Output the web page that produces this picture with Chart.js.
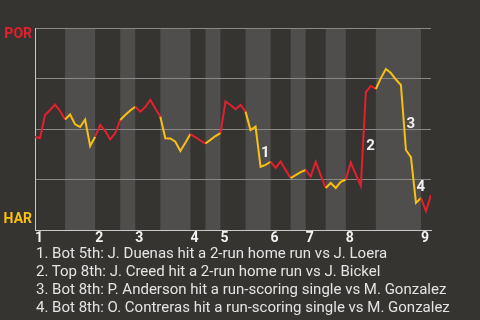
<!DOCTYPE html>
<html>
<head>
<meta charset="utf-8">
<script src="https://cdn.jsdelivr.net/npm/chart.js@4.4.1/dist/chart.umd.min.js"></script>
<style>
  html, body { margin: 0; padding: 0; background: #363431; width: 480px; height: 320px; overflow: hidden; }
  #wrap { position: relative; width: 480px; height: 320px; }
  #chart { position: absolute; left: 0; top: 0; }
  #notes {
    position: absolute; left: 36px; top: 244px;
    font-family: Roboto, sans-serif; font-size: 15px; line-height: 18px;
    color: #e4e4e4; white-space: nowrap;
  }
</style>
</head>
<body>
<div id="wrap">
  <canvas id="chart" width="480" height="248"></canvas>
  <div id="notes"></div>
</div>
<script>
// Probabilidad de victoria (POR arriba = 100, HAR abajo = 0), una por evento
const winProb = [
  46.0, 45.5, 56.9, 59.4, 62.1, 58.9, 54.7, 57.2, 52.3, 51.0,
  54.7, 41.6, 46.2, 52.0, 49.0, 44.9, 47.9, 54.5, 56.9, 59.2,
  61.0, 58.6, 60.9, 64.4, 60.2, 56.1, 45.4, 45.3, 43.7, 39.1,
  43.2, 47.5, 46.0, 44.3, 42.8, 44.6, 46.5, 48.0, 63.6, 61.9,
  59.8, 61.9, 58.6, 49.5, 51.2, 31.3, 32.2, 33.8, 30.7, 33.9,
  29.7, 25.7, 27.2, 28.7, 29.7, 26.5, 33.7, 27.2, 20.8, 23.3,
  20.8, 23.8, 25.0, 33.4, 27.5, 21.8, 68.3, 71.3, 69.8, 75.2,
  79.7, 77.7, 74.5, 71.8, 39.6, 36.1, 13.4, 15.8, 9.4, 17.3
];
const lastEvent = 79;

// Evento donde empieza cada media entrada (par = alta, impar = baja)
const halfStarts = [0, 6, 12, 17, 20, 25, 31, 34, 37, 42, 47, 51, 54, 58, 62, 68, 77];

// Etiquetas de entradas en el eje x
const inningStarts = [0, 12, 20, 31, 37, 47, 54, 62, 77];
const inningLabels = ['1', '2', '3', '4', '5', '6', '7', '8', '9'];

// Etiquetas de equipos en el eje y
const teamTicks = [97, 5.4];
const teamLabels = ['POR', 'HAR'];
const gridValues = [25, 50, 75, 100];

// Jugadas destacadas
const noteEvents = [45, 66, 74, 76];
const notes = [
  '1. Bot 5th: J. Duenas hit a 2-run home run vs J. Loera',
  '2. Top 8th: J. Creed hit a 2-run home run vs J. Bickel',
  '3. Bot 8th: P. Anderson hit a run-scoring single vs M. Gonzalez',
  '4. Bot 8th: O. Contreras hit a run-scoring single vs M. Gonzalez'
];

const RED = '#e61f2e';
const YELLOW = '#f8c012';
const BAND = '#4f4e4c';

function halfOf(x) {
  let h = 0;
  for (let i = 0; i < halfStarts.length; i++) {
    if (x >= halfStarts[i]) h = i;
  }
  return h;
}

// Franjas sombreadas para las bajas de cada entrada
const bandsPlugin = {
  id: 'bands',
  beforeDraw(chart) {
    const { ctx, chartArea, scales } = chart;
    ctx.save();
    ctx.fillStyle = BAND;
    for (let i = 1; i < halfStarts.length; i += 2) {
      const end = i + 1 < halfStarts.length ? halfStarts[i + 1] : lastEvent;
      const x0 = scales.x.getPixelForValue(halfStarts[i]);
      const x1 = scales.x.getPixelForValue(end);
      ctx.fillRect(x0, chartArea.top, x1 - x0, chartArea.bottom - chartArea.top);
    }
    ctx.restore();
  }
};

// Números de las jugadas sobre la línea
const notesPlugin = {
  id: 'noteMarks',
  afterDatasetsDraw(chart) {
    const { ctx } = chart;
    const pts = chart.getDatasetMeta(0).data;
    ctx.save();
    ctx.fillStyle = '#f2f2f2';
    ctx.font = 'bold 15px Roboto';
    ctx.textAlign = 'left';
    ctx.textBaseline = 'middle';
    noteEvents.forEach((e, i) => {
      const a = pts[e - 1], b = pts[e];
      const mx = (a.x + b.x) / 2;
      const my = (a.y + b.y) / 2;
      ctx.fillText(String(i + 1), mx + 3, my + 7);
    });
    ctx.restore();
  }
};

new Chart(document.getElementById('chart'), {
  type: 'line',
  data: {
    datasets: [{
      data: winProb.map((v, i) => ({ x: i, y: v })),
      borderWidth: 2,
      pointRadius: 0,
      tension: 0,
      borderColor: RED,
      segment: {
        borderColor: ctx => (halfOf(ctx.p0.parsed.x) % 2 ? YELLOW : RED)
      }
    }]
  },
  options: {
    responsive: false,
    animation: false,
    devicePixelRatio: 1,
    layout: { padding: { top: 28, right: 49, left: 0, bottom: 0 } },
    plugins: { legend: { display: false }, tooltip: { enabled: false } },
    scales: {
      x: {
        type: 'linear',
        min: 0,
        max: lastEvent,
        afterBuildTicks: axis => { axis.ticks = inningStarts.map(v => ({ value: v })); },
        afterFit: axis => { axis.height = 18; },
        grid: { display: false, drawTicks: false },
        border: { color: '#c9c9c9', width: 1 },
        ticks: {
          autoSkip: false,
          maxRotation: 0,
          align: 'start',
          padding: 0,
          color: '#f2f2f2',
          font: { family: 'Roboto', size: 14, weight: 'bold' },
          callback: v => inningLabels[inningStarts.indexOf(v)]
        }
      },
      y: {
        min: 0,
        max: 100,
        afterBuildTicks: axis => {
          axis.ticks = [0, ...teamTicks, ...gridValues].sort((a, b) => a - b).map(v => ({ value: v }));
        },
        afterFit: axis => { axis.width = 35; },
        grid: {
          drawTicks: false,
          lineWidth: 1,
          color: ctx => (gridValues.includes(ctx.tick.value) ? '#8a8987' : 'rgba(0,0,0,0)')
        },
        border: { color: '#c9c9c9', width: 1 },
        ticks: {
          autoSkip: false,
          padding: 3,
          font: { family: 'Roboto', size: 14, weight: 'bold' },
          color: ctx => (ctx.tick.value > 50 ? RED : YELLOW),
          callback: v => {
            const k = teamTicks.indexOf(v);
            return k >= 0 ? teamLabels[k] : '';
          }
        }
      }
    }
  },
  plugins: [bandsPlugin, notesPlugin]
});

document.getElementById('notes').innerHTML = notes.map(n => `<div>${n}</div>`).join('');
</script>
</body>
</html>
